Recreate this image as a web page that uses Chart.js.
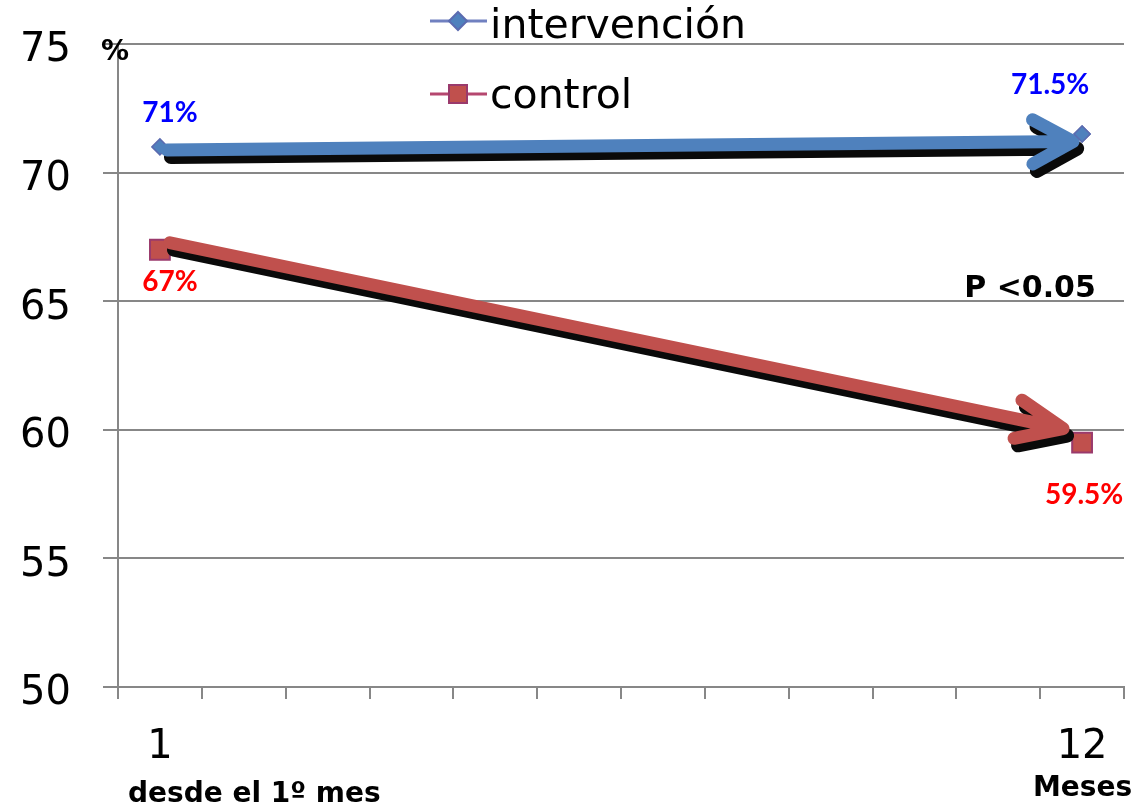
<!DOCTYPE html>
<html>
<head>
<meta charset="utf-8">
<script src="https://cdn.jsdelivr.net/npm/chart.js@4.4.0/dist/chart.umd.min.js"></script>
<style>
  html, body { margin: 0; padding: 0; background: #ffffff; }
  #wrap { width: 1145px; height: 812px; position: relative; }
</style>
</head>
<body>
<div id="wrap"><canvas id="chart" width="1145" height="812"></canvas></div>
<script>
// Meses de seguimiento (categorías del eje X)
const months = ['1', '2', '3', '4', '5', '6', '7', '8', '9', '10', '11', '12'];
// Porcentaje al mes 1 y al mes 12 en cada grupo
const intervencion = [71, null, null, null, null, null, null, null, null, null, null, 71.5];
const control = [67, null, null, null, null, null, null, null, null, null, null, 59.5];
// Rango del eje Y
const yMin = 50;
const yMax = 75;
const yStep = 5;
// Textos del gráfico
const seriesNames = ['intervención', 'control'];
const pValueText = 'P <0.05';
const xStartText = 'desde el 1º mes';
const xEndText = 'Meses';
const yUnitText = '%';

const REG = '"DejaVu Sans", sans-serif';
const GRID = '#878787';

// Flechas de tendencia, ancladas a los puntos de cada serie
function drawArrow(ctx, x0, y0, x1, y1, color, width, headLen, headAngle) {
  const a = Math.atan2(y1 - y0, x1 - x0);
  const ax1 = x1 - headLen * Math.cos(a - headAngle);
  const ay1 = y1 - headLen * Math.sin(a - headAngle);
  const ax2 = x1 - headLen * Math.cos(a + headAngle);
  const ay2 = y1 - headLen * Math.sin(a + headAngle);
  ctx.save();
  ctx.strokeStyle = color;
  ctx.lineWidth = width;
  ctx.lineCap = 'round';
  ctx.lineJoin = 'round';
  ctx.beginPath();
  ctx.moveTo(x0, y0);
  ctx.lineTo(x1, y1);
  ctx.moveTo(ax1, ay1);
  ctx.lineTo(x1, y1);
  ctx.lineTo(ax2, ay2);
  ctx.stroke();
  ctx.restore();
}

const decorations = {
  id: 'decorations',
  afterDatasetsDraw(chart) {
    const ctx = chart.ctx;
    const pts = i => chart.getDatasetMeta(i).data;
    const bI = pts(0), bC = pts(1);
    const last = months.length - 1;

    // flechas: sombra negra y trazo de color
    const arrows = [
      { p0: bI[0], p1: bI[last], d0: [7, 3], d1: [-9, 7.5], color: '#4F81BD', w: 13, len: 46, ang: 0.50 },
      { p0: bC[0], p1: bC[last], d0: [10, -7], d1: [-19, -14], color: '#C0504D', w: 13, len: 50, ang: 0.40 }
    ];
    arrows.forEach(ar => {
      const x0 = ar.p0.x + ar.d0[0], y0 = ar.p0.y + ar.d0[1];
      const x1 = ar.p1.x + ar.d1[0], y1 = ar.p1.y + ar.d1[1];
      drawArrow(ctx, x0 + 4, y0 + 7, x1 + 4, y1 + 7, '#0a0a0a', ar.w + 1, ar.len, ar.ang);
      drawArrow(ctx, x0, y0, x1, y1, ar.color, ar.w, ar.len, ar.ang);
    });

    // punto final de intervención por encima de la flecha
    ctx.save();
    const pe = bI[last];
    ctx.fillStyle = '#4F81BD';
    ctx.strokeStyle = '#5B6BB0';
    ctx.lineWidth = 1.5;
    ctx.beginPath();
    ctx.moveTo(pe.x, pe.y - 8); ctx.lineTo(pe.x + 8, pe.y); ctx.lineTo(pe.x, pe.y + 8); ctx.lineTo(pe.x - 8, pe.y);
    ctx.closePath(); ctx.fill(); ctx.stroke();
    ctx.restore();

    // etiquetas de valor
    ctx.save();
    ctx.font = 'bold 28px Lato, sans-serif';
    ctx.textAlign = 'center';
    ctx.textBaseline = 'middle';
    const lab = (p, v, dx, dy, color) => { ctx.fillStyle = color; ctx.fillText(v + '%', p.x + dx, p.y + dy); };
    lab(bI[0], intervencion[0], 10, -34, '#0000FF');
    lab(bI[last], intervencion[last], -32, -49, '#0000FF');
    lab(bC[0], control[0], 10, 32, '#FF0000');
    lab(bC[last], control[last], 2, 52, '#FF0000');
    ctx.restore();

    // anotaciones de texto
    ctx.save();
    ctx.fillStyle = '#000000';
    ctx.textBaseline = 'alphabetic';
    ctx.font = 'bold 30px "DejaVu Sans", sans-serif';
    ctx.textAlign = 'center';
    ctx.fillText(pValueText, 1030, 297);
    ctx.font = 'bold 28px "DejaVu Sans", sans-serif';
    ctx.textAlign = 'left';
    ctx.fillText(xStartText, 128, 802);
    ctx.fillText(xEndText, 1033, 796);
    ctx.fillText(yUnitText, 101, 60);
    ctx.restore();

    // leyenda
    ctx.save();
    const legend = [
      { y: 21, line: '#7080C0', fill: '#4F81BD', stroke: '#5B6BB0', shape: 'diamond', base: 38 },
      { y: 94, line: '#B5476F', fill: '#C0504D', stroke: '#9A3A6C', shape: 'square', base: 108 }
    ];
    legend.forEach((l, i) => {
      ctx.strokeStyle = l.line;
      ctx.lineWidth = 3;
      ctx.beginPath(); ctx.moveTo(430, l.y); ctx.lineTo(487, l.y); ctx.stroke();
      ctx.fillStyle = l.fill;
      ctx.strokeStyle = l.stroke;
      ctx.lineWidth = 2;
      ctx.beginPath();
      if (l.shape === 'diamond') {
        ctx.moveTo(458, l.y - 9); ctx.lineTo(467, l.y); ctx.lineTo(458, l.y + 9); ctx.lineTo(449, l.y);
        ctx.closePath();
      } else {
        ctx.rect(449, l.y - 9, 18, 18);
      }
      ctx.fill(); ctx.stroke();
      ctx.fillStyle = '#000000';
      ctx.font = '41px ' + REG;
      ctx.textAlign = 'left';
      ctx.textBaseline = 'alphabetic';
      ctx.fillText(seriesNames[i], 490, l.base);
    });
    ctx.restore();
  }
};

new Chart(document.getElementById('chart'), {
  type: 'line',
  data: {
    labels: months,
    datasets: [
      {
        label: seriesNames[0],
        data: intervencion,
        borderColor: '#7080C0',
        backgroundColor: '#4F81BD',
        pointStyle: 'rectRot',
        pointRadius: 8,
        pointBackgroundColor: '#4F81BD',
        pointBorderColor: '#5B6BB0',
        pointBorderWidth: 1.5,
        spanGaps: false
      },
      {
        label: seriesNames[1],
        data: control,
        borderColor: '#B5476F',
        backgroundColor: '#C0504D',
        pointStyle: 'rect',
        pointRadius: 14,
        pointBackgroundColor: '#C0504D',
        pointBorderColor: '#9A3A6C',
        pointBorderWidth: 2,
        spanGaps: false
      }
    ]
  },
  options: {
    responsive: false,
    animation: false,
    layout: { padding: { top: 44, right: 21, left: 0, bottom: 0 } },
    plugins: {
      legend: { display: false },
      tooltip: { enabled: false }
    },
    scales: {
      x: {
        type: 'category',
        offset: true,
        afterFit(scale) { scale.height = 125; scale.paddingLeft = 0; scale.paddingRight = 0; },
        grid: { offset: true, drawOnChartArea: false, drawTicks: true, tickLength: 12, color: GRID, lineWidth: 2 },
        border: { display: true, color: GRID, width: 2 },
        ticks: {
          autoSkip: false,
          maxRotation: 0,
          padding: 25,
          color: '#000000',
          font: { family: REG, size: 40 },
          callback(value, index) { return (index === 0 || index === months.length - 1) ? months[index] : ''; }
        }
      },
      y: {
        min: yMin,
        max: yMax,
        afterFit(scale) { scale.width = 118; scale.paddingTop = 0; scale.paddingBottom = 0; },
        grid: { color: GRID, lineWidth: 2, tickLength: 15, drawTicks: true },
        border: { display: true, color: GRID, width: 2 },
        ticks: {
          stepSize: yStep,
          padding: 32,
          labelOffset: 7,
          color: '#000000',
          font: { family: REG, size: 40 }
        }
      }
    }
  },
  plugins: [decorations]
});
</script>
</body>
</html>
